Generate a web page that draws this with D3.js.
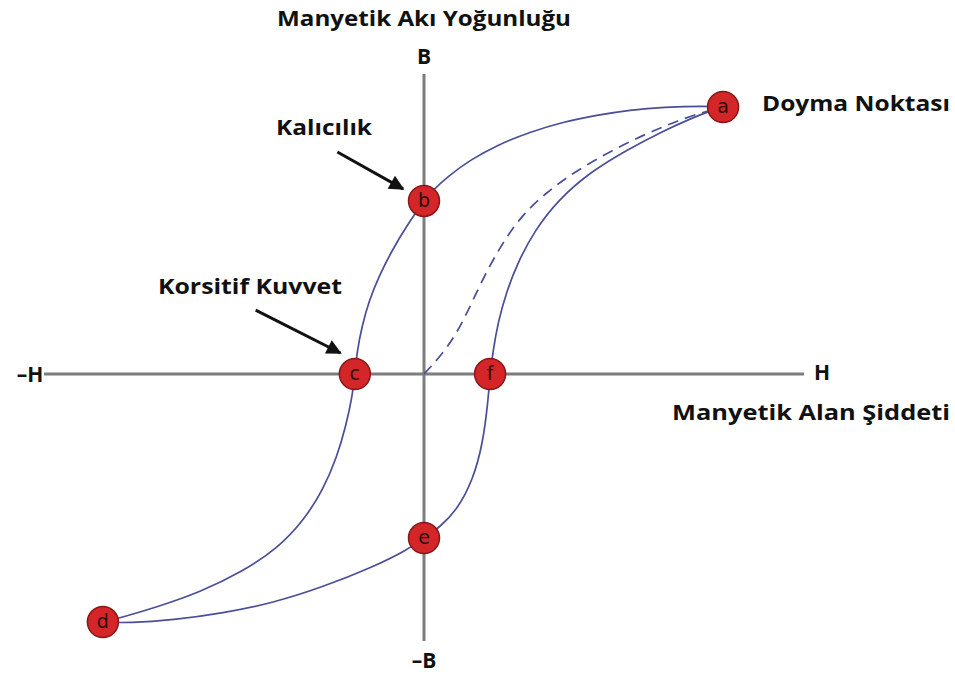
<!DOCTYPE html>
<html>
<head>
<meta charset="utf-8">
<script src="https://cdn.jsdelivr.net/npm/d3@7"></script>
<style>
  html, body { margin: 0; padding: 0; background: #fff; }
  svg text { font-family: "Open Sans", "Noto Sans", sans-serif; }
</style>
</head>
<body>
<svg id="chart" width="955" height="679"></svg>
<script>
// Hysteresis loop: field strength H (horizontal) vs flux density B (vertical)

// Upper (descending) branch: saturation a -> remanence b -> coercivity c -> d
const upperH = [7.87, 7.45, 6.29, 5.42, 4.55, 3.66, 2.79, 1.92, 1.21, 0.61, 0.24, 0.0,
                -0.46, -0.85, -1.18, -1.45, -1.63, -1.76, -1.82,
                -1.89, -2.05, -2.29, -2.66, -3.16, -3.84, -4.79, -5.89, -7.03, -7.92, -8.45];
const upperB = [8.90, 8.93, 8.90, 8.80, 8.63, 8.40, 8.07, 7.63, 7.13, 6.57, 6.13, 5.77,
                4.93, 4.10, 3.27, 2.43, 1.60, 0.77, 0.00,
                -0.77, -1.70, -2.77, -3.87, -4.87, -5.80, -6.60, -7.27, -7.77, -8.10, -8.27];

// Lower (ascending) branch: d -> e -> f -> saturation a
const lowerH = [-8.45, -7.74, -6.61, -5.29, -3.97, -2.66, -1.34, -0.45, 0.0, 0.42, 0.87,
                1.29, 1.55, 1.68, 1.74, 1.82, 1.95, 2.16, 2.47, 2.92, 3.53, 4.37, 5.34,
                6.29, 7.0, 7.45, 7.87];
const lowerB = [-8.27, -8.30, -8.20, -7.97, -7.63, -7.10, -6.43, -5.87, -5.47, -5.10, -4.53,
                -3.53, -2.30, -0.97, 0.00, 0.80, 1.73, 2.70, 3.73, 4.80, 5.80, 6.73, 7.47,
                8.10, 8.50, 8.73, 8.90];

// Initial magnetisation curve (dashed): origin -> a
const initH = [0.0, 0.42, 0.82, 1.16, 1.53, 2.00, 2.55, 3.24, 3.92, 4.82, 5.87, 6.74, 7.26, 7.61];
const initB = [0.0, 0.57, 1.27, 2.10, 3.13, 4.23, 5.27, 6.07, 6.70, 7.37, 8.03, 8.47, 8.70, 8.80];

// Labelled points on the loop
const pointNames = ["a", "b", "c", "d", "e", "f"];
const pointH = [7.87, 0.0, -1.82, -8.45, 0.0, 1.74];
const pointB = [8.90, 5.77, 0.0, -8.27, -5.47, 0.0];

// Axis extents
const hExtent = [-10, 10];
const bExtent = [-8.9, 10];

const svg = d3.select("#chart");

const x = d3.scaleLinear().domain([-10, 10]).range([44, 804]);
const y = d3.scaleLinear().domain([-10, 10]).range([674, 74]);

const zip = (hs, bs) => hs.map((h, i) => [h, bs[i]]);
// B-spline keeps the hand-traced branches smooth
const line = d3.line().x(d => x(d[0])).y(d => y(d[1])).curve(d3.curveBasis);

// Axes
const axisColor = "#7d7d7d";
svg.append("line")
  .attr("x1", x(hExtent[0])).attr("x2", x(hExtent[1]))
  .attr("y1", y(0)).attr("y2", y(0))
  .attr("stroke", axisColor).attr("stroke-width", 3);
svg.append("line")
  .attr("x1", x(0)).attr("x2", x(0))
  .attr("y1", y(bExtent[1])).attr("y2", y(bExtent[0]))
  .attr("stroke", axisColor).attr("stroke-width", 3);

// Curves
const curveColor = "#4a4e98";
svg.append("path").attr("d", line(zip(initH, initB)))
  .attr("fill", "none").attr("stroke", curveColor).attr("stroke-width", 1.7)
  .attr("stroke-dasharray", "11,7");
svg.append("path").attr("d", line(zip(upperH, upperB)))
  .attr("fill", "none").attr("stroke", curveColor).attr("stroke-width", 1.7);
svg.append("path").attr("d", line(zip(lowerH, lowerB)))
  .attr("fill", "none").attr("stroke", curveColor).attr("stroke-width", 1.7);

// Point markers
const pts = svg.append("g").selectAll("g")
  .data(pointNames.map((n, i) => ({ n, h: pointH[i], b: pointB[i] })))
  .join("g")
  .attr("transform", d => `translate(${x(d.h)},${y(d.b)})`);
pts.append("circle").attr("r", 15.5)
  .attr("fill", "#d42529").attr("stroke", "#861818").attr("stroke-width", 1.5);
pts.append("text").text(d => d.n)
  .attr("text-anchor", "middle").attr("dy", "0.33em")
  .attr("fill", "#2e0c0c").attr("font-size", 19)
  .style("font-family", "'DejaVu Sans', sans-serif");

// Arrows pointing to remanence and coercivity
svg.append("defs").append("marker")
  .attr("id", "head").attr("viewBox", "0 0 10 10")
  .attr("refX", 9).attr("refY", 5)
  .attr("markerWidth", 6.5).attr("markerHeight", 5)
  .attr("orient", "auto").attr("markerUnits", "strokeWidth")
  .append("path").attr("d", "M0,0 L10,5 L0,10 Z").attr("fill", "#111");

function arrow(x1, y1, x2, y2) {
  svg.append("line")
    .attr("x1", x1).attr("y1", y1).attr("x2", x2).attr("y2", y2)
    .attr("stroke", "#111").attr("stroke-width", 3)
    .attr("marker-end", "url(#head)");
}
arrow(x(-2.28), y(7.40), x(-0.55), y(6.17));
arrow(x(-4.43), y(2.13), x(-2.2), y(0.70));

// Text labels
function label(txt, px, py, anchor, size, width) {
  const t = svg.append("text").text(txt)
    .attr("x", px).attr("y", py)
    .attr("text-anchor", anchor)
    .attr("font-size", size).attr("font-weight", "bold")
    .attr("fill", "#111");
  if (width) t.attr("textLength", width).attr("lengthAdjust", "spacingAndGlyphs");
}
label("Manyetik Akı Yoğunluğu", x(0), 26, "middle", 22, 294);
label("B", x(0), 64, "middle", 21);
label("\u2013B", x(0), 668, "middle", 21);
label("\u2013H", 30, 382, "middle", 21);
label("H", 822, 380, "middle", 21);
label("Doyma Noktası", 762, 111, "start", 22, 188);
label("Manyetik Alan Şiddeti", 672, 420, "start", 22, 278);
label("Kalıcılık", 276, 135, "start", 22, 96);
label("Korsitif Kuvvet", 158, 294, "start", 22, 184);
</script>
</body>
</html>
